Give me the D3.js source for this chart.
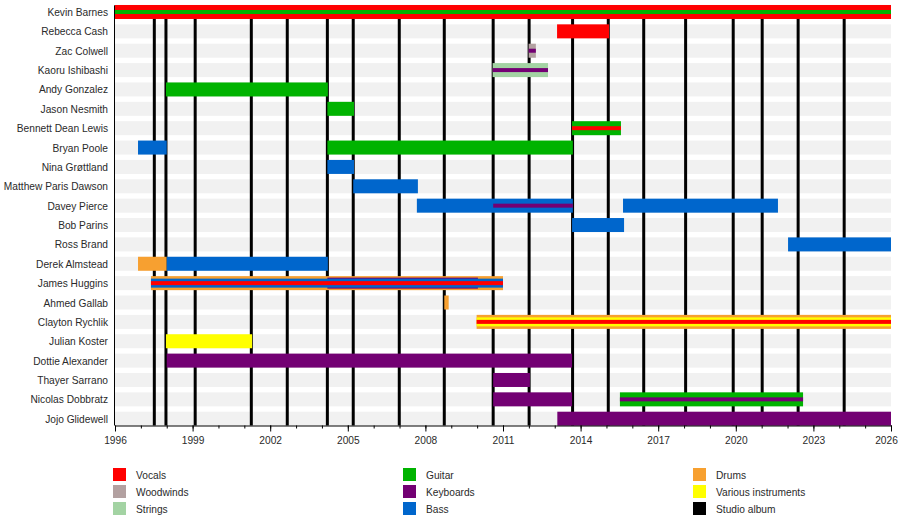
<!DOCTYPE html>
<html>
<head>
<meta charset="utf-8">
<script src="https://cdn.jsdelivr.net/npm/d3@7"></script>
<style>
body { margin: 0; background: #fff; }
text { font-family: "Liberation Sans", Arial, sans-serif; fill: #2a2a2a; }
</style>
</head>
<body>
<svg id="chart" width="900" height="520"></svg>
<script>
var members = ['Kevin Barnes', 'Rebecca Cash', 'Zac Colwell', 'Kaoru Ishibashi', 'Andy Gonzalez',
    'Jason Nesmith', 'Bennett Dean Lewis', 'Bryan Poole', 'Nina Grøttland', 'Matthew Paris Dawson',
    'Davey Pierce', 'Bob Parins', 'Ross Brand', 'Derek Almstead', 'James Huggins', 'Ahmed Gallab',
    'Clayton Rychlik', 'Julian Koster', 'Dottie Alexander', 'Thayer Sarrano', 'Nicolas Dobbratz',
    'Jojo Glidewell'];

var roles = ['Vocals', 'Woodwinds', 'Strings', 'Guitar', 'Keyboards', 'Bass', 'Drums', 'Various instruments'];
var roleColors = ['#ff0000', '#b3a1a1', '#a3d3a3', '#00b300', '#730073', '#0066cc', '#f7a030', '#ffff00'];

// release dates of the studio albums (decimal years)
var albums = [1997.52, 1997.97, 1999.10, 2001.27, 2002.66, 2004.21, 2005.21, 2006.99, 2008.73,
    2010.62, 2012.01, 2013.69, 2015.07, 2016.44, 2018.06, 2019.90, 2021.02, 2022.41, 2024.19];

var yearTicks = [1996, 1999, 2002, 2005, 2008, 2011, 2014, 2017, 2020, 2023, 2026];

// member, role, from, to, layer (0 = full bar, 1 = middle bar, 2 = thin stripe, 3 = wide inner)
var spans = [
    ['Kevin Barnes', 'Vocals', 1996, 2026, 0],
    ['Kevin Barnes', 'Guitar', 1996, 2026, 2],
    ['Rebecca Cash', 'Vocals', 2013.09, 2015.10, 0],
    ['Zac Colwell', 'Woodwinds', 2011.99, 2012.27, 0],
    ['Zac Colwell', 'Keyboards', 2011.99, 2012.27, 2],
    ['Kaoru Ishibashi', 'Strings', 2010.60, 2012.74, 0],
    ['Kaoru Ishibashi', 'Keyboards', 2010.60, 2012.74, 2],
    ['Andy Gonzalez', 'Guitar', 1997.97, 2004.23, 0],
    ['Jason Nesmith', 'Guitar', 2004.21, 2005.24, 0],
    ['Bennett Dean Lewis', 'Guitar', 2013.67, 2015.56, 0],
    ['Bennett Dean Lewis', 'Vocals', 2013.67, 2015.56, 2],
    ['Bryan Poole', 'Bass', 1996.89, 1998.00, 0],
    ['Bryan Poole', 'Guitar', 2004.21, 2013.70, 0],
    ['Nina Grøttland', 'Bass', 2004.21, 2005.24, 0],
    ['Matthew Paris Dawson', 'Bass', 2005.21, 2007.71, 0],
    ['Davey Pierce', 'Bass', 2007.67, 2013.70, 0],
    ['Davey Pierce', 'Keyboards', 2010.62, 2013.70, 2],
    ['Davey Pierce', 'Bass', 2015.64, 2021.63, 0],
    ['Bob Parins', 'Bass', 2013.67, 2015.68, 0],
    ['Ross Brand', 'Bass', 2022.02, 2026, 0],
    ['Derek Almstead', 'Drums', 1996.89, 1998.00, 0],
    ['Derek Almstead', 'Bass', 1998.00, 2004.23, 0],
    ['James Huggins', 'Drums', 1997.39, 2011.00, 0],
    ['James Huggins', 'Keyboards', 2004.21, 2010.03, 3],
    ['James Huggins', 'Bass', 1997.39, 2011.00, 1],
    ['James Huggins', 'Vocals', 1997.39, 2011.00, 2],
    ['Ahmed Gallab', 'Drums', 2008.73, 2008.90, 0],
    ['Clayton Rychlik', 'Drums', 2009.98, 2026, 0],
    ['Clayton Rychlik', 'Various instruments', 2009.98, 2026, 1],
    ['Clayton Rychlik', 'Vocals', 2009.98, 2026, 2],
    ['Julian Koster', 'Various instruments', 1997.97, 2001.30, 0],
    ['Dottie Alexander', 'Keyboards', 1998.00, 2013.67, 0],
    ['Thayer Sarrano', 'Keyboards', 2010.62, 2012.04, 0],
    ['Nicolas Dobbratz', 'Keyboards', 2010.62, 2013.67, 0],
    ['Nicolas Dobbratz', 'Guitar', 2015.52, 2022.60, 0],
    ['Nicolas Dobbratz', 'Keyboards', 2015.52, 2022.60, 2],
    ['Jojo Glidewell', 'Keyboards', 2013.10, 2026, 0]
];

var legendItems = ['Vocals', 'Woodwinds', 'Strings', 'Guitar', 'Keyboards', 'Bass', 'Drums', 'Various instruments', 'Studio album'];

(function() {
    var svg = d3.select('#chart');
    var plotLeft = 115, plotRight = 891, plotTop = 2.3, plotBottom = 425.5;
    var fontSize = '10.2px';

    var x = d3.scaleLinear().domain([1996, 2026]).range([plotLeft, plotRight]);
    var y = d3.scaleBand().domain(members).range([plotTop, 428.4]);
    var color = d3.scaleOrdinal().domain(roles.concat(['Studio album'])).range(roleColors.concat(['#000']));

    var barH = 14;
    var layerH = [14, 9, 4, 11];
    var mid = function(name) { return y(name) + y.bandwidth() / 2 };

    // light row bands
    svg.append('g')
        .selectAll('rect')
        .data(members)
        .enter()
        .append('rect')
        .attr('x', plotLeft)
        .attr('width', plotRight - plotLeft)
        .attr('y', function(d) { return mid(d) - barH / 2 })
        .attr('height', barH)
        .attr('fill', '#f1f1f1');

    // studio album lines
    svg.append('g')
        .selectAll('line')
        .data(albums)
        .enter()
        .append('line')
        .attr('x1', function(d) { return x(d) })
        .attr('x2', function(d) { return x(d) })
        .attr('y1', plotTop + 3)
        .attr('y2', plotBottom)
        .attr('stroke', '#000')
        .attr('stroke-width', 3);

    // role bars, tallest first so the stripes sit on top
    var sorted = spans.slice().sort(function(a, b) { return layerH[b[4]] - layerH[a[4]] });
    svg.append('g')
        .selectAll('rect')
        .data(sorted)
        .enter()
        .append('rect')
        .attr('x', function(d) { return x(d[2]) })
        .attr('width', function(d) { return Math.max(1, x(d[3]) - x(d[2])) })
        .attr('y', function(d) { return mid(d[0]) - layerH[d[4]] / 2 })
        .attr('height', function(d) { return layerH[d[4]] })
        .attr('fill', function(d) { return color(d[1]) });

    // member names
    svg.append('g')
        .selectAll('text')
        .data(members)
        .enter()
        .append('text')
        .attr('x', plotLeft - 7)
        .attr('y', function(d) { return mid(d) + 4 })
        .attr('text-anchor', 'end')
        .style('font-size', fontSize)
        .text(function(d) { return d });

    svg.append('line')
        .attr('x1', plotLeft - 0.5)
        .attr('x2', plotLeft - 0.5)
        .attr('y1', plotTop + 3)
        .attr('y2', plotBottom)
        .attr('stroke', '#000');

    // year axis: minor ticks each year, labelled every three
    svg.append('g')
        .attr('transform', 'translate(0,' + plotBottom + ')')
        .call(d3.axisBottom(x).tickValues(d3.range(1996, 2027)).tickSize(3).tickSizeOuter(0).tickFormat(''))
        .call(function(g) { g.select('.domain').remove() });

    var ax = svg.append('g')
        .attr('transform', 'translate(0,' + plotBottom + ')')
        .call(d3.axisBottom(x).tickValues(yearTicks).tickSize(6).tickSizeOuter(0).tickFormat(d3.format('d')));
    ax.selectAll('text')
        .style('font-size', fontSize)
        .attr('dy', '0.9em');
    // keep the last year inside the window
    ax.selectAll('.tick')
        .filter(function(d) { return d === 2026 })
        .select('text')
        .attr('x', -5);
    ax.selectAll('line, path').attr('stroke', '#000');

    // legend, three columns
    var lg = svg.append('g')
        .selectAll('g')
        .data(legendItems)
        .enter()
        .append('g')
        .attr('transform', function(d, i) {
            return 'translate(' + (113 + Math.floor(i / 3) * 290) + ',' + (468 + (i % 3) * 17) + ')'
        });
    lg.append('rect')
        .attr('width', 13)
        .attr('height', 13)
        .attr('fill', function(d) { return color(d) });
    lg.append('text')
        .attr('x', 23)
        .attr('y', 11)
        .style('font-size', fontSize)
        .text(function(d) { return d });
})();
</script>
</body>
</html>
